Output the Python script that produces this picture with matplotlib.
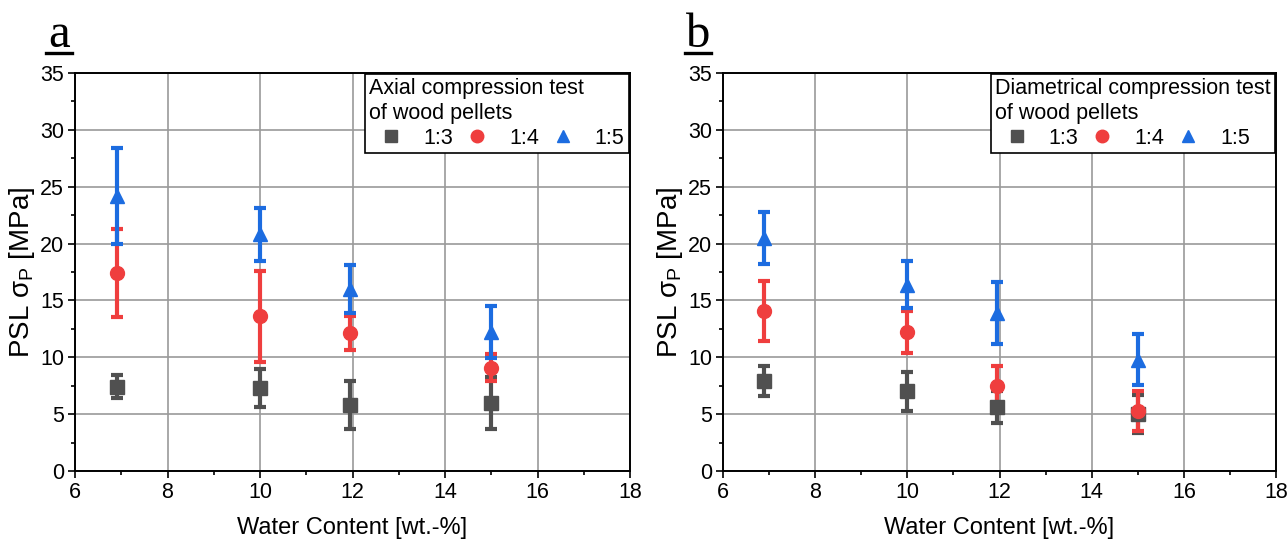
import matplotlib

matplotlib.use("Agg")
import matplotlib.pyplot as plt
from matplotlib.lines import Line2D
from matplotlib.ticker import MultipleLocator

plt.rcParams["font.family"] = ["Liberation Sans", "DejaVu Sans"]

# water content positions (wt.-%)
water = [6.9, 10.0, 11.95, 15.0]
ratios = ["1:3", "1:4", "1:5"]

# panel a: axial compression test
axial_mean = {
    "1:3": [7.4, 7.3, 5.8, 6.0],
    "1:4": [17.4, 13.6, 12.1, 9.1],
    "1:5": [24.2, 20.8, 16.0, 12.2],
}
axial_err = {
    "1:3": [1.0, 1.7, 2.1, 2.3],
    "1:4": [3.9, 4.0, 1.5, 1.2],
    "1:5": [4.2, 2.35, 2.1, 2.3],
}

# panel b: diametrical compression test
diam_mean = {
    "1:3": [7.9, 7.0, 5.6, 5.0],
    "1:4": [14.1, 12.2, 7.5, 5.3],
    "1:5": [20.5, 16.4, 13.9, 9.8],
}
diam_err = {
    "1:3": [1.3, 1.75, 1.4, 1.65],
    "1:4": [2.65, 1.85, 1.75, 1.75],
    "1:5": [2.3, 2.05, 2.75, 2.25],
}

colors = {"1:3": "#505050", "1:4": "#ef3e3e", "1:5": "#1c6ce0"}
markers = {"1:3": "s", "1:4": "o", "1:5": "^"}


def draw_panel(ax, means, errs, title):
    for r in ratios:
        ax.errorbar(
            water, means[r], yerr=errs[r],
            fmt=markers[r], color=colors[r], ms=10,
            elinewidth=3, capsize=4, capthick=3, zorder=3,
        )
    ax.set_xlim(6, 18)
    ax.set_ylim(0, 35)
    ax.xaxis.set_major_locator(MultipleLocator(2))
    ax.xaxis.set_minor_locator(MultipleLocator(1))
    ax.yaxis.set_major_locator(MultipleLocator(5))
    ax.yaxis.set_minor_locator(MultipleLocator(2.5))
    ax.grid(True, which="major", color="#9a9a9a", lw=1.2)
    ax.set_axisbelow(True)
    ax.tick_params(which="both", direction="out", labelsize=15.5, width=1.2, pad=3)
    ax.tick_params(which="major", length=5)
    ax.tick_params(which="minor", length=3)
    for sp in ax.spines.values():
        sp.set_linewidth(1.4)
    ax.set_xlabel("Water Content [wt.-%]", fontsize=17, labelpad=10)
    ax.set_ylabel(r"PSL $\mathregular{\sigma_P}$ [MPa]", fontsize=20, labelpad=2)

    handles = [
        Line2D([], [], ls="none", marker=markers[r], color=colors[r], ms=9)
        for r in ratios
    ]
    leg = ax.legend(
        handles, ratios, title=title, ncol=3, loc="upper right",
        fontsize=15.5, title_fontsize=15.5, frameon=True, fancybox=False,
        edgecolor="black", borderaxespad=0.05, columnspacing=0.1,
        handletextpad=0.5, handlelength=2.0, borderpad=0.2,
        labelspacing=0.2, alignment="left",
    )
    leg.get_frame().set_linewidth(1.2)
    leg.get_frame().set_alpha(1)


fig = plt.figure(figsize=(12.87, 5.41), dpi=100)
W, H = 1287, 541
ax_a = fig.add_axes([75 / W, 1 - 471 / H, 555 / W, 398 / H])
ax_b = fig.add_axes([723 / W, 1 - 471 / H, 553 / W, 398 / H])

draw_panel(ax_a, axial_mean, axial_err, "Axial compression test\nof wood pellets")
draw_panel(ax_b, diam_mean, diam_err, "Diametrical compression test\nof wood pellets")

# panel letters with underline
for letter, xc in [("a", 59), ("b", 698)]:
    fig.text(xc / W, 1 - 47 / H, letter, fontsize=35,
             family=["Liberation Serif", "DejaVu Serif"], ha="center", va="baseline")
    fig.add_artist(Line2D([(xc - 13) / W, (xc + 13) / W], [1 - 53 / H, 1 - 53 / H],
                          color="black", lw=2.4))

fig.savefig("out.png", dpi=100)
